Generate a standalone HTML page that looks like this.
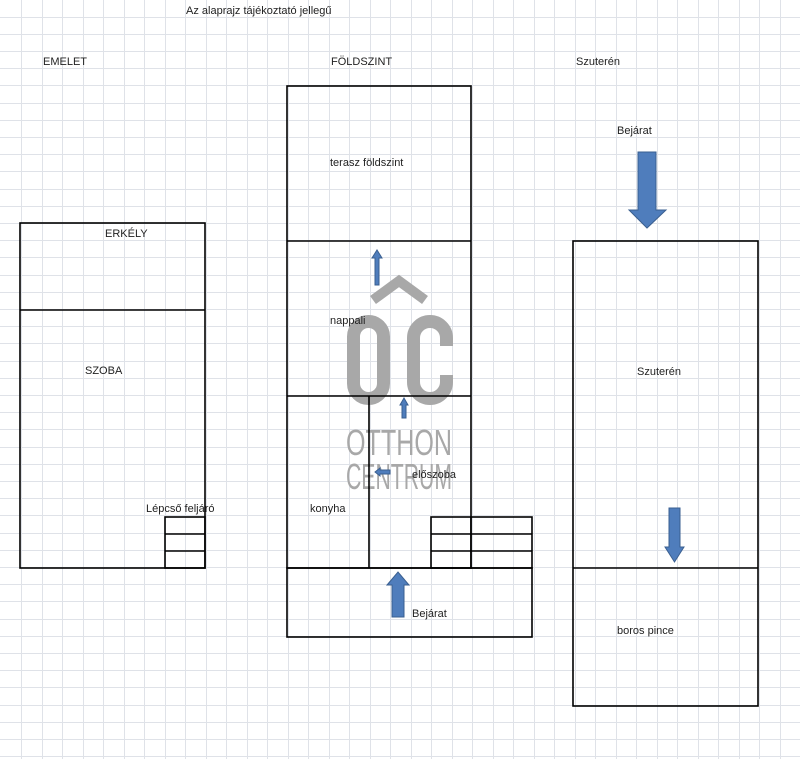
<!DOCTYPE html>
<html><head><meta charset="utf-8"><style>
body{margin:0;background:#fff}
svg text{font-family:"Liberation Sans",sans-serif;font-size:11px;fill:#222}
</style></head><body>
<svg id="s" width="800" height="759" xmlns="http://www.w3.org/2000/svg">
<g id="grid" stroke="#dfe2e8" stroke-width="1"></g>
<!-- watermark -->
<g fill="none" stroke="#a8a8a8" stroke-width="13">
<path d="M373 300 L399 281 L425 300" stroke-width="10"/>
<rect x="353.5" y="321.5" width="30" height="77" rx="15"/>
<path d="M446.5 346 V338 A16.5 16.5 0 0 0 413.5 338 V382 A16.5 16.5 0 0 0 446.5 382 V375"/>
</g>
<text x="346" y="455" style="font-size:36px;fill:#a8a8a8" textLength="106" lengthAdjust="spacingAndGlyphs">OTTHON</text>
<text x="346" y="489" style="font-size:36px;fill:#a8a8a8" textLength="106" lengthAdjust="spacingAndGlyphs">CENTRUM</text>
<g fill="none" stroke="#000" stroke-width="1.6">
<rect x="20" y="223" width="185" height="345"/>
<line x1="20" y1="310" x2="205" y2="310"/>
<rect x="165" y="517" width="40" height="51"/>
<line x1="165" y1="534" x2="205" y2="534"/><line x1="165" y1="551" x2="205" y2="551"/>
<rect x="287" y="86" width="184" height="482"/>
<line x1="287" y1="241" x2="471" y2="241"/>
<line x1="287" y1="396" x2="471" y2="396"/>
<line x1="369" y1="396" x2="369" y2="568"/>
<rect x="431" y="517" width="101" height="51"/>
<line x1="431" y1="534" x2="532" y2="534"/><line x1="431" y1="551" x2="532" y2="551"/>
<line x1="471" y1="517" x2="471" y2="568"/>
<rect x="287" y="568" width="245" height="69"/>
<rect x="573" y="241" width="185" height="465"/>
<line x1="573" y1="568" x2="758" y2="568"/>
</g>
<g fill="#4f7dbc" stroke="#3a5f90" stroke-width="1">
<path d="M638 152H656V210H666L647 228L629 210H638Z"/>
<path d="M669 508H680V547H684L674.5 562L665 547H669Z"/>
<path d="M392 617H404V585H409L398 572L387 585H392Z"/>
<path d="M375 285H379V258H382L377 250L372 258H375Z"/>
<path d="M402 418H406V405H408L404 398L400 405H402Z"/>
<path d="M390 470V474H380V476L375 472L380 468V470Z"/>
</g>
<text x="186" y="14">Az  alaprajz tájékoztató jellegű</text>
<text x="43" y="65">EMELET</text>
<text x="331" y="65">FÖLDSZINT</text>
<text x="576" y="65">Szuterén</text>
<text x="617" y="134">Bejárat</text>
<text x="105" y="237">ERKÉLY</text>
<text x="85" y="374">SZOBA</text>
<text x="146" y="512">Lépcső feljáró</text>
<text x="330" y="166">terasz földszint</text>
<text x="330" y="324">nappali</text>
<text x="412" y="478">előszoba</text>
<text x="310" y="512">konyha</text>
<text x="412" y="617">Bejárat</text>
<text x="637" y="375">Szuterén</text>
<text x="617" y="634">boros pince</text>
</svg>
<script>
var g=document.getElementById('grid'),h='';
for(var i=1;i<40;i++){var x=Math.round(0.5+i*20.5)+0.5;h+='<line x1="'+x+'" y1="0" x2="'+x+'" y2="759"/>';}
for(var j=1;j<45;j++){var y=Math.round(-0.6+j*17.2)+0.5;h+='<line x1="0" y1="'+y+'" x2="800" y2="'+y+'"/>';}
g.innerHTML=h;
</script>
</body></html>
